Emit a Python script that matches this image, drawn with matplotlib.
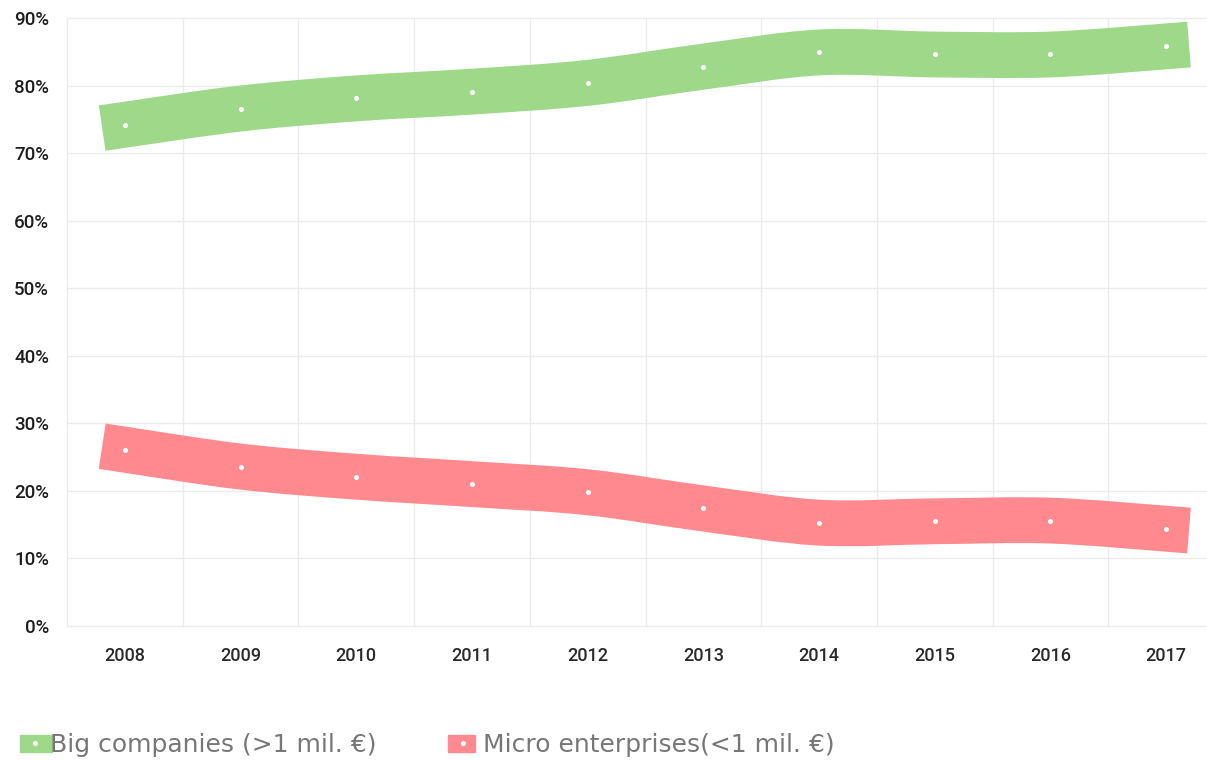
#!/usr/bin/env python3
"""Share of big companies vs micro enterprises, 2008-2017"""

import matplotlib
matplotlib.use('Agg')
import matplotlib.pyplot as plt
from matplotlib.patches import PathPatch, Rectangle
from matplotlib.path import Path
import numpy as np

# Data
years = ['2008', '2009', '2010', '2011', '2012',
         '2013', '2014', '2015', '2016', '2017']
big = [74.2, 76.6, 78.1, 79.1, 80.4, 82.8, 84.9, 84.6, 84.6, 85.8]
micro = [26.1, 23.6, 22.1, 21.0, 19.8, 17.4, 15.3, 15.5, 15.6, 14.4]
series_names = ['Big companies (>1 mil. €)', 'Micro enterprises(<1 mil. €)']
colors = ['#9ed98a', '#fe8a90']
yticks = [0, 10, 20, 30, 40, 50, 60, 70, 80, 90]


def smooth_path(xs, ys):
    # Catmull-Rom through the points, as cubic bezier segments
    pts = np.column_stack([xs, ys]).astype(float)
    ext = np.vstack([pts[0], pts, pts[-1]])
    verts = [pts[0]]
    codes = [Path.MOVETO]
    for i in range(len(pts) - 1):
        p0, p1, p2, p3 = ext[i], ext[i + 1], ext[i + 2], ext[i + 3]
        c1 = p1 + (p2 - p0) / 6.0
        c2 = p2 - (p3 - p1) / 6.0
        verts += [c1, c2, p2]
        codes += [Path.CURVE4] * 3
    return Path(verts, codes)


W, H = 1207, 760
fig = plt.figure(figsize=(W / 100, H / 100), dpi=100)
x0, x1 = 67, 1224
y0, y1 = 626, 18
ax = fig.add_axes([x0 / W, 1 - y0 / H, (x1 - x0) / W, (y0 - y1) / H])

x = np.arange(len(years))
for vals, col in zip([big, micro], colors):
    patch = PathPatch(smooth_path(x, vals), facecolor='none', edgecolor=col,
                      linewidth=33, capstyle='projecting', joinstyle='round',
                      zorder=3)
    ax.add_patch(patch)
    ax.plot(x, vals, 'o', color='white', markersize=3.6,
            markeredgewidth=0, zorder=4)

ax.set_xlim(-0.5, len(years) - 0.5)
ax.set_ylim(0, 90)
ax.set_xticks(x)
ax.set_xticklabels(years)
ax.set_yticks(yticks)
ax.set_yticklabels(['{}%'.format(v) for v in yticks])

# Grid: horizontal at every tick, vertical between categories
for v in yticks:
    ax.axhline(v, color='#ebebeb', linewidth=1, zorder=0, clip_on=False)
for b in np.arange(len(years) + 1) - 0.5:
    ax.axvline(b, color='#ebebeb', linewidth=1, zorder=0, clip_on=False)

for s in ax.spines.values():
    s.set_visible(False)
ax.tick_params(which='both', length=0)
ax.tick_params(axis='y', pad=13, labelsize=13.5, labelcolor='#1e1e1e')
ax.tick_params(axis='x', pad=15, labelsize=13, labelcolor='#2a2a2a')
for lab in ax.get_xticklabels() + ax.get_yticklabels():
    lab.set_fontfamily('Roboto')
    lab.set_fontweight('medium')

# Legend, drawn by hand at the bottom
leg = [(20, 32, 50), (448, 27, 483)]
for (rx, rw, tx), name, col in zip(leg, series_names, colors):
    fig.patches.append(Rectangle((rx / W, 1 - 752 / H), rw / W, 17 / H,
                                 transform=fig.transFigure, color=col))
    fig.lines.append(plt.Line2D([(rx + 15) / W], [1 - 743 / H], marker='o',
                                color='white', markersize=3.6,
                                markeredgewidth=0,
                                transform=fig.transFigure))
    fig.text(tx / W, 1 - 745 / H, name, fontsize=18, color='#777777',
             family='DejaVu Sans', va='center', ha='left')

fig.savefig('out.png', dpi=100)
